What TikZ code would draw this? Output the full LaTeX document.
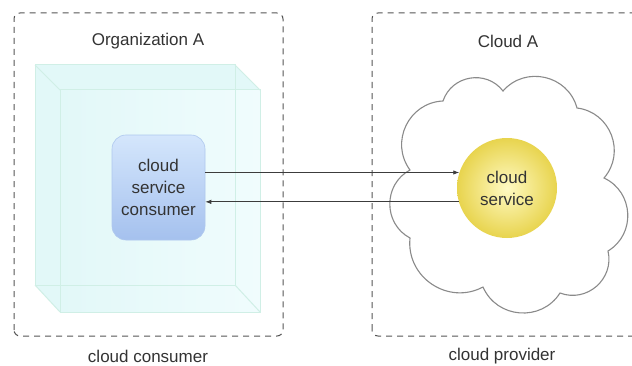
\documentclass[tikz,border=0pt]{standalone}
\usepackage{fontspec}
\setmainfont{Liberation Sans}
\usetikzlibrary{arrows.meta}
\definecolor{dashgray}{RGB}{85,85,85}
\definecolor{txtgray}{RGB}{51,51,51}
\definecolor{cubefill}{RGB}{226,248,248}
\definecolor{cubelight}{RGB}{240,252,253}
\definecolor{cubeedge}{RGB}{208,239,230}
\definecolor{cscTop}{RGB}{212,230,252}
\definecolor{cscBot}{RGB}{165,193,238}
\definecolor{cscEdge}{RGB}{175,200,238}
\definecolor{svcIn}{RGB}{255,250,195}
\definecolor{svcOut}{RGB}{232,212,78}
\definecolor{cloudline}{RGB}{138,138,138}
\definecolor{arrowgray}{RGB}{60,60,60}
\tikzset{
  lbl/.style={font=\fontsize{17}{20}\selectfont, text=txtgray, inner sep=0pt},
  boundary/.style={draw=dashgray, line width=1pt, dash pattern=on 6pt off 5pt, rounded corners=6pt},
  cubeline/.style={draw=cubeedge, line width=1pt},
  link/.style={draw=arrowgray, line width=0.9pt, -{Latex[length=6pt,width=4.5pt]}},
  puff/.style={bend left=62, looseness=1.15}
}
\begin{document}
\begin{tikzpicture}[x=1pt,y=1pt]
\useasboundingbox (0,0) rectangle (632,365);
\clip (0,0) rectangle (632,365);
\fill[white] (0,0) rectangle (632,365);

% organisation and provider boundaries
\draw[boundary] (14,29) rectangle (283,352);
\draw[boundary] (372,29) rectangle (660,352);

% translucent cube around the consumer
\fill[cubefill] (35,300) -- (235,300) -- (260,275) -- (260,53) -- (60,53) -- (35,80) -- cycle;
\shade[left color=cubefill, right color=cubelight] (60,53) rectangle (260,275);
\draw[cubeline] (35,80) rectangle (235,300);
\draw[cubeline] (60,53) rectangle (260,275);
\draw[cubeline] (35,300) -- (60,275) (235,300) -- (260,275)
                (35,80) -- (60,53) (235,80) -- (260,53);

% cloud outline
\draw[cloudline, line width=1.1pt, fill=white]
  (443,264) to[puff] (503,274) to[puff] (577,257) to[puff] (604,187)
  to[puff] (608,114) to[puff] (560,72) to[puff] (483,78)
  to[puff] (410,127) to[puff] (410,195) to[puff] (443,264) -- cycle;

% labels
\node[lbl] (orgA) at (148,324) {Organization A};
\node[lbl] (cloudA) at (508,324) {Cloud A};
\node[lbl] (consumerLbl) at (148,9) {cloud consumer};
\node[lbl] (providerLbl) at (502,9) {cloud provider};

% cloud service consumer
\node[draw=cscEdge, line width=0.6pt, top color=cscTop, bottom color=cscBot,
      rounded corners=14pt, minimum width=93pt, minimum height=105pt,
      align=center, font=\fontsize{17}{22}\selectfont, text=txtgray]
  (csc) at (158.5,177.5) {cloud\\service\\consumer};

% cloud service
\node[circle, draw=none, inner color=svcIn, outer color=svcOut,
      minimum size=100pt, align=center, font=\fontsize{17}{22}\selectfont, text=txtgray]
  (svc) at (507,177) {cloud\\service};

% request and response
\draw[link] (csc.east |- svc.162) -- (svc.162);
\draw[link] (svc.196) -- (csc.east |- svc.196);
\end{tikzpicture}
\end{document}
